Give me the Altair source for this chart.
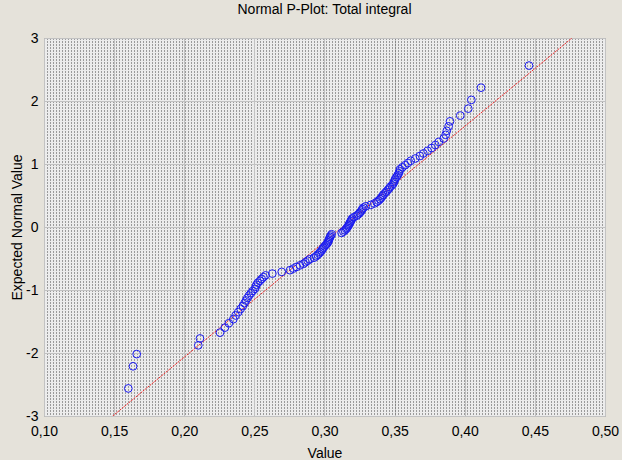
import altair as alt
import pandas as pd
from statistics import NormalDist

values = [
    0.1601, 0.1635, 0.1661, 0.2100, 0.2112, 0.2255, 0.2290, 0.2318, 0.2350, 0.2366,
    0.2385, 0.2402, 0.2418, 0.2430, 0.2440, 0.2450, 0.2462, 0.2475, 0.2488, 0.2504,
    0.2510, 0.2515, 0.2525, 0.2540, 0.2552, 0.2565, 0.2580, 0.2628, 0.2695, 0.2754,
    0.2778, 0.2800, 0.2825, 0.2850, 0.2865, 0.2880, 0.2895, 0.2925, 0.2940, 0.2952,
    0.2962, 0.2970, 0.2980, 0.2985, 0.2992, 0.3000, 0.3010, 0.3018, 0.3025, 0.3028,
    0.3032, 0.3036, 0.3040, 0.3045, 0.3051, 0.3122, 0.3135, 0.3145, 0.3155, 0.3160,
    0.3168, 0.3172, 0.3178, 0.3182, 0.3188, 0.3192, 0.3198, 0.3210, 0.3229, 0.3240,
    0.3250, 0.3258, 0.3265, 0.3270, 0.3277, 0.3295, 0.3330, 0.3355, 0.3372, 0.3385,
    0.3396, 0.3405, 0.3412, 0.3419, 0.3430, 0.3440, 0.3450, 0.3460, 0.3467, 0.3480,
    0.3490, 0.3495, 0.3500, 0.3505, 0.3515, 0.3522, 0.3530, 0.3535, 0.3538, 0.3555,
    0.3575, 0.3595, 0.3615, 0.3648, 0.3680, 0.3705, 0.3735, 0.3764, 0.3790, 0.3815,
    0.3850, 0.3864, 0.3872, 0.3885, 0.3895, 0.3968, 0.4025, 0.4047, 0.4116, 0.4458,
]

# Reference normal line endpoints
line_x = [0.149, 0.4765]
line_y = [-3, 3]

x_major = [0.10, 0.15, 0.20, 0.25, 0.30, 0.35, 0.40, 0.45, 0.50]
y_major = [-3, -2, -1, 0, 1, 2, 3]

n = len(values)
nd = NormalDist()
expected = [nd.inv_cdf((i + 1 - 0.375) / (n + 0.25)) for i in range(n)]

df = pd.DataFrame({"Value": values, "Expected": expected})
line_df = pd.DataFrame({"Value": line_x, "Expected": line_y})

FONT = "Liberation Sans"
W, H = 561, 378

# dense grid values for the dotted background texture (every 3 px)
dense = [round(0.10 + k * 0.4 / 187, 7) for k in range(188)]
x_vals = sorted(set(dense + x_major))

is_major = "abs(datum.value*20 - round(datum.value*20)) < 0.0001"

x_scale = alt.Scale(domain=[0.10, 0.50], nice=False, zero=False)
y_scale = alt.Scale(domain=[-3, 3], nice=False, zero=False)

x_axis = alt.Axis(
    values=x_vals,
    tickCount=1000,
    title="Value",
    grid=True,
    gridColor={"condition": {"test": is_major, "value": "#c2c2c2"}, "value": "#4a4a4a"},
    gridDash={"condition": {"test": is_major, "value": []}, "value": [1, 2]},
    gridWidth=1,
    labelExpr=f"({is_major}) ? replace(format(datum.value, '.2f'), '.', ',') : ''",
    labelOverlap=False,
    labelFlush=False,
    ticks=False,
    domain=False,
    labelPadding=8,
    labelFontSize=14,
    labelFont=FONT,
    labelColor="black",
    titleFont=FONT,
    titleFontSize=14,
    titleFontWeight="normal",
    titleColor="black",
    titlePadding=8,
)

y_axis = alt.Axis(
    values=y_major,
    title="Expected Normal Value",
    grid=True,
    gridColor="#c2c2c2",
    labelExpr="'' + datum.value",
    ticks=False,
    domain=False,
    labelPadding=6,
    labelFontSize=14,
    labelFont=FONT,
    labelColor="black",
    titleFont=FONT,
    titleFontSize=14,
    titleFontWeight="normal",
    titleColor="black",
    titlePadding=1,
)

points = alt.Chart(df).mark_point(
    shape="circle", filled=False, color="#1c1cf0", size=60, strokeWidth=1, opacity=1
).encode(
    x=alt.X("Value:Q", scale=x_scale, axis=x_axis),
    y=alt.Y("Expected:Q", scale=y_scale, axis=y_axis),
)

line = alt.Chart(line_df).mark_line(
    color="#f02828", strokeWidth=1, strokeDash=[2, 1], clip=True
).encode(
    x=alt.X("Value:Q", scale=x_scale),
    y=alt.Y("Expected:Q", scale=y_scale),
)

chart = alt.layer(line, points).properties(
    width=W,
    height=H,
    autosize=alt.AutoSizeParams(type="none"),
    padding={"left": 44, "top": 38, "right": 17, "bottom": 44},
    title=alt.TitleParams(
        "Normal P-Plot: Total integral",
        font=FONT,
        fontSize=14,
        fontWeight="normal",
        color="black",
        anchor="middle",
        offset=14,
    ),
).configure(
    background="#e5e2da",
).configure_view(
    fill="#ececec",
    stroke="#6a6a6a",
    strokeDash=[1, 1],
)

chart.save("out.html", embed_options={"renderer": "svg", "actions": False})
